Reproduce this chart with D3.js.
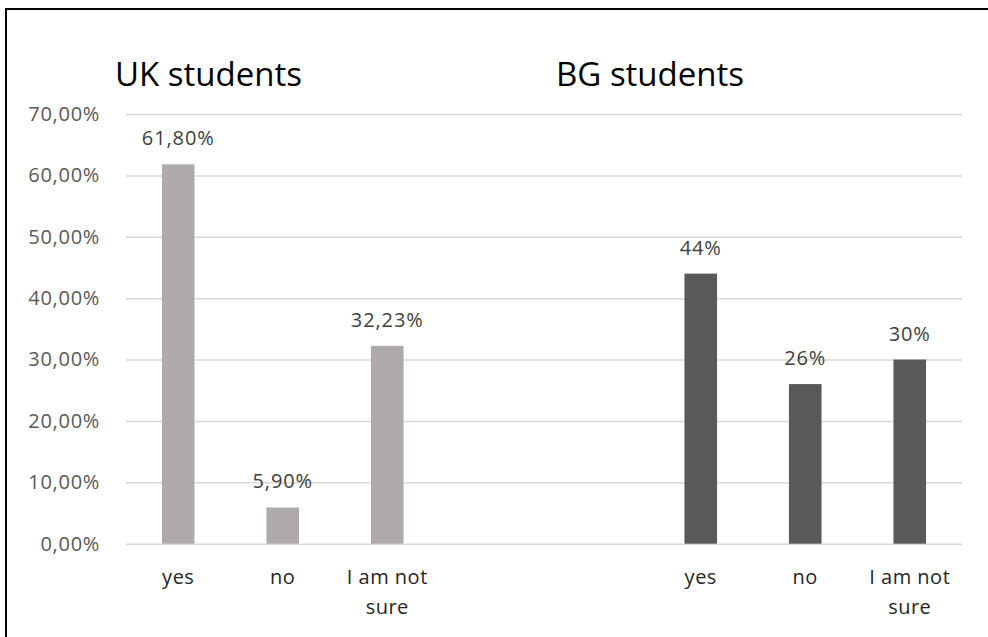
<!DOCTYPE html>
<html>
<head>
<meta charset="utf-8">
<script src="https://cdn.jsdelivr.net/npm/d3@7"></script>
<style>
  body { margin: 0; background: #fff; }
  svg { display: block; font-family: "Open Sans", sans-serif; }
</style>
</head>
<body>
<div id="chart"></div>
<script>

// data
var categories = ["yes", "no", "I am not sure"];
var ukValues = [61.80, 5.90, 32.23];
var bgValues = [44, 26, 30];
var groupTitles = ["UK students", "BG students"];
var yTicks = [0, 10, 20, 30, 40, 50, 60, 70];

var width = 988, height = 637;
var plot = {left: 126, right: 962, top: 114, bottom: 543.7};

var svg = d3.select("#chart")
  .append("svg")
    .attr("width", width)
    .attr("height", height);

// frame (only top and left edges fall inside the picture)
svg.append("path")
  .attr("d", "M6," + height + "V9H" + width)
  .attr("fill", "none")
  .attr("stroke", "#000")
  .attr("stroke-width", 2);

// comma as decimal mark
var locale = d3.formatLocale({decimal: ",", thousands: ".", grouping: [3], currency: ["", ""]});
var fmt2 = locale.format(".2f");
var fmt0 = locale.format(".0f");

// slots: 3 UK bars, 2 empty, 3 BG bars
var rows = [];
categories.forEach(function(c, i) { rows.push({key: "UK" + i, cat: c, value: ukValues[i], group: 0}); });
rows.push({key: "gap0"}, {key: "gap1"});
categories.forEach(function(c, i) { rows.push({key: "BG" + i, cat: c, value: bgValues[i], group: 1}); });
var bars = rows.filter(function(d) { return d.cat; });

var x = d3.scaleBand()
  .domain(rows.map(function(d) { return d.key; }))
  .range([plot.left, plot.right])
  .paddingInner(0.688)
  .paddingOuter(0.344);

var y = d3.scaleLinear()
  .domain([0, 70])
  .range([plot.bottom, plot.top]);

// grid + y labels
var yAxis = svg.append("g")
  .attr("transform", "translate(" + plot.left + ",0)")
  .call(d3.axisLeft(y)
    .tickValues(yTicks)
    .tickSize(-(plot.right - plot.left))
    .tickPadding(26)
    .tickFormat(function(d) { return fmt2(d) + "%"; }));
yAxis.select(".domain").remove();
yAxis.selectAll(".tick line")
  .attr("stroke", "#d9d9d9")
  .attr("stroke-width", 1.5);
yAxis.selectAll(".tick text")
  .attr("fill", "#595959")
  .attr("font-family", "Open Sans")
  .attr("font-size", 20)
  .attr("letter-spacing", 0.7);

// bars
var colors = ["#aeaaaa", "#595959"];
svg.append("g")
  .selectAll("rect")
  .data(bars)
  .enter().append("rect")
    .attr("x", function(d) { return x(d.key); })
    .attr("y", function(d) { return y(d.value); })
    .attr("width", x.bandwidth())
    .attr("height", function(d) { return y(0) - y(d.value); })
    .attr("fill", function(d) { return colors[d.group]; });

// value labels
svg.append("g")
  .selectAll("text")
  .data(bars)
  .enter().append("text")
    .attr("x", function(d) { return x(d.key) + x.bandwidth() / 2; })
    .attr("y", function(d) { return y(d.value) - 19; })
    .attr("text-anchor", "middle")
    .attr("fill", "#404040")
    .attr("font-size", 20)
    .attr("letter-spacing", 0.9)
    .text(function(d) { return (d.group === 0 ? fmt2(d.value) : fmt0(d.value)) + "%"; });

// category labels, wrapped
var catG = svg.append("g")
  .selectAll("text")
  .data(bars)
  .enter().append("text")
    .attr("x", function(d) { return x(d.key) + x.bandwidth() / 2; })
    .attr("y", 584)
    .attr("text-anchor", "middle")
    .attr("fill", "#262626")
    .attr("font-size", 20)
    .attr("letter-spacing", 0.5);

catG.each(function(d) {
  var text = d3.select(this);
  var words = d.cat.split(" ");
  var maxW = x.step() * 0.9;
  var line = [];
  var tspan = text.append("tspan").attr("x", text.attr("x")).attr("dy", 0);
  words.forEach(function(w) {
    line.push(w);
    tspan.text(line.join(" "));
    if (tspan.node().getComputedTextLength() > maxW && line.length > 1) {
      line.pop();
      tspan.text(line.join(" "));
      line = [w];
      tspan = text.append("tspan").attr("x", text.attr("x")).attr("dy", 30).text(w);
    }
  });
});

// group titles
var titleX = [115, 556];
svg.append("g")
  .selectAll("text")
  .data(groupTitles)
  .enter().append("text")
    .attr("x", function(d, i) { return titleX[i]; })
    .attr("y", 86)
    .attr("fill", "#000")
    .attr("font-size", 33)
    .text(function(d) { return d; });

</script>
</body>
</html>
